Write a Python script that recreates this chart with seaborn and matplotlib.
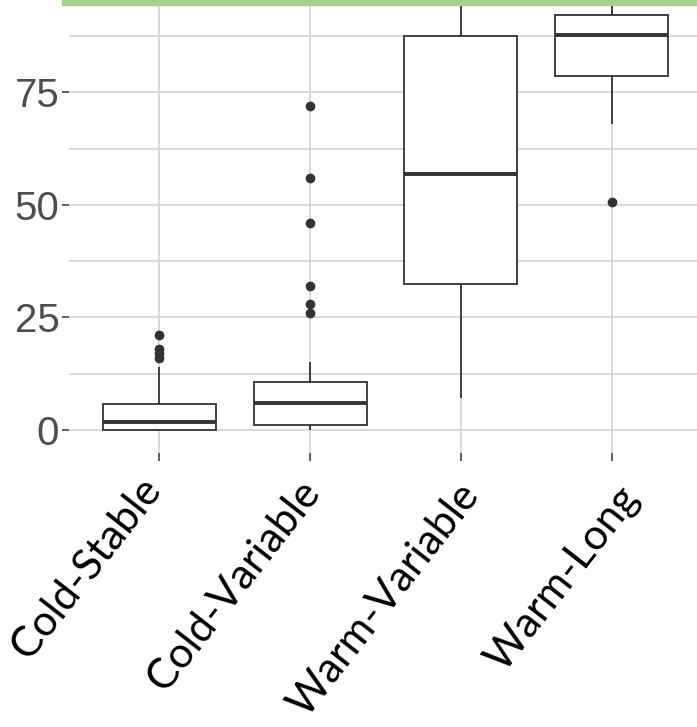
import numpy as np
import matplotlib.pyplot as plt
import seaborn as sns
import pandas as pd
from matplotlib.patches import Rectangle
from matplotlib.ticker import MultipleLocator
from matplotlib.transforms import ScaledTranslation

# values, one list per group
cold_stable = [0, 0, 0, 0, 0, 0, 0.5, 1, 1, 1.5, 1.7, 2, 3, 4, 5, 5.7, 14,
               16, 17, 18, 21]
cold_variable = [0, 0, 0, 0.5, 0.5, 1, 1, 1, 2, 3, 3, 4, 5, 5, 5.9, 6, 7, 8,
                 9, 10, 10, 10.7, 15.2, 26, 28, 32, 46, 56, 72]
warm_variable = [7, 20, 32.4, 45, 56.8, 70, 87.5, 95, 100]
warm_long = [50.7, 68, 75, 78.6, 82, 85, 87.7, 89, 90, 92.1, 95, 98, 100]

groups = ['Cold-Stable', 'Cold-Variable', 'Warm-Variable', 'Warm-Long']
y_ticks = [0, 25, 50, 75]

data = pd.DataFrame({
    'group': (['Cold-Stable'] * len(cold_stable) + ['Cold-Variable'] * len(cold_variable)
              + ['Warm-Variable'] * len(warm_variable) + ['Warm-Long'] * len(warm_long)),
    'value': cold_stable + cold_variable + warm_variable + warm_long,
})

sns.set_style('white')
fig = plt.figure(figsize=(6.97, 7.27), dpi=100)
ax = fig.add_axes([69 / 697, (727 - 452.5) / 727, 633 / 697, 495.4 / 727])

sns.boxplot(data=data, x='group', y='value', order=groups, ax=ax,
            color='white', linecolor='#333333', linewidth=1.3, width=0.75,
            fliersize=6, showcaps=False,
            flierprops=dict(marker='o', markerfacecolor='#333333', markeredgecolor='#333333'),
            medianprops=dict(linewidth=2.8, color='#333333'))

ax.set_xlim(-0.6, 3.6)
ax.set_ylim(-5, 105)
ax.set_yticks(y_ticks)
ax.yaxis.set_minor_locator(MultipleLocator(12.5))
ax.set_axisbelow(True)
ax.grid(True, which='major', color='#d0d0d0', linewidth=1.1)
ax.grid(True, which='minor', axis='y', color='#d0d0d0', linewidth=1.1)
for s in ax.spines.values():
    s.set_visible(False)

ax.tick_params(axis='y', which='major', left=True, length=5, width=1.1, color='#333333',
               labelsize=29, labelcolor='#4d4d4d', pad=2)
ax.tick_params(axis='y', which='minor', left=False)
ax.tick_params(axis='x', bottom=True, length=6, width=1.1, color='#333333', pad=4)
for lab in ax.get_yticklabels():
    lab.set_family('Liberation Sans')
ax.set_xticks(range(len(groups)))
ax.set_xticklabels(groups, rotation=52, ha='right', va='center', rotation_mode='anchor',
                   fontsize=30.5, family='Lato', color='black')
# the labels in the reference drift a little to the right of their ticks
for i, lab in enumerate(ax.get_xticklabels()):
    lab.set_transform(lab.get_transform()
                      + ScaledTranslation((-6 + 8.5 * i) / 100, (-16 - 3 * i) / 100,
                                          fig.dpi_scale_trans))
ax.set_xlabel('')
ax.set_ylabel('')

# green strip across the top
fig.patches.append(Rectangle((62 / 697, 1 - 5 / 727), 1, 5 / 727, transform=fig.transFigure,
                             color='#a9d18e', zorder=10))

fig.savefig('out.png', dpi=100)
